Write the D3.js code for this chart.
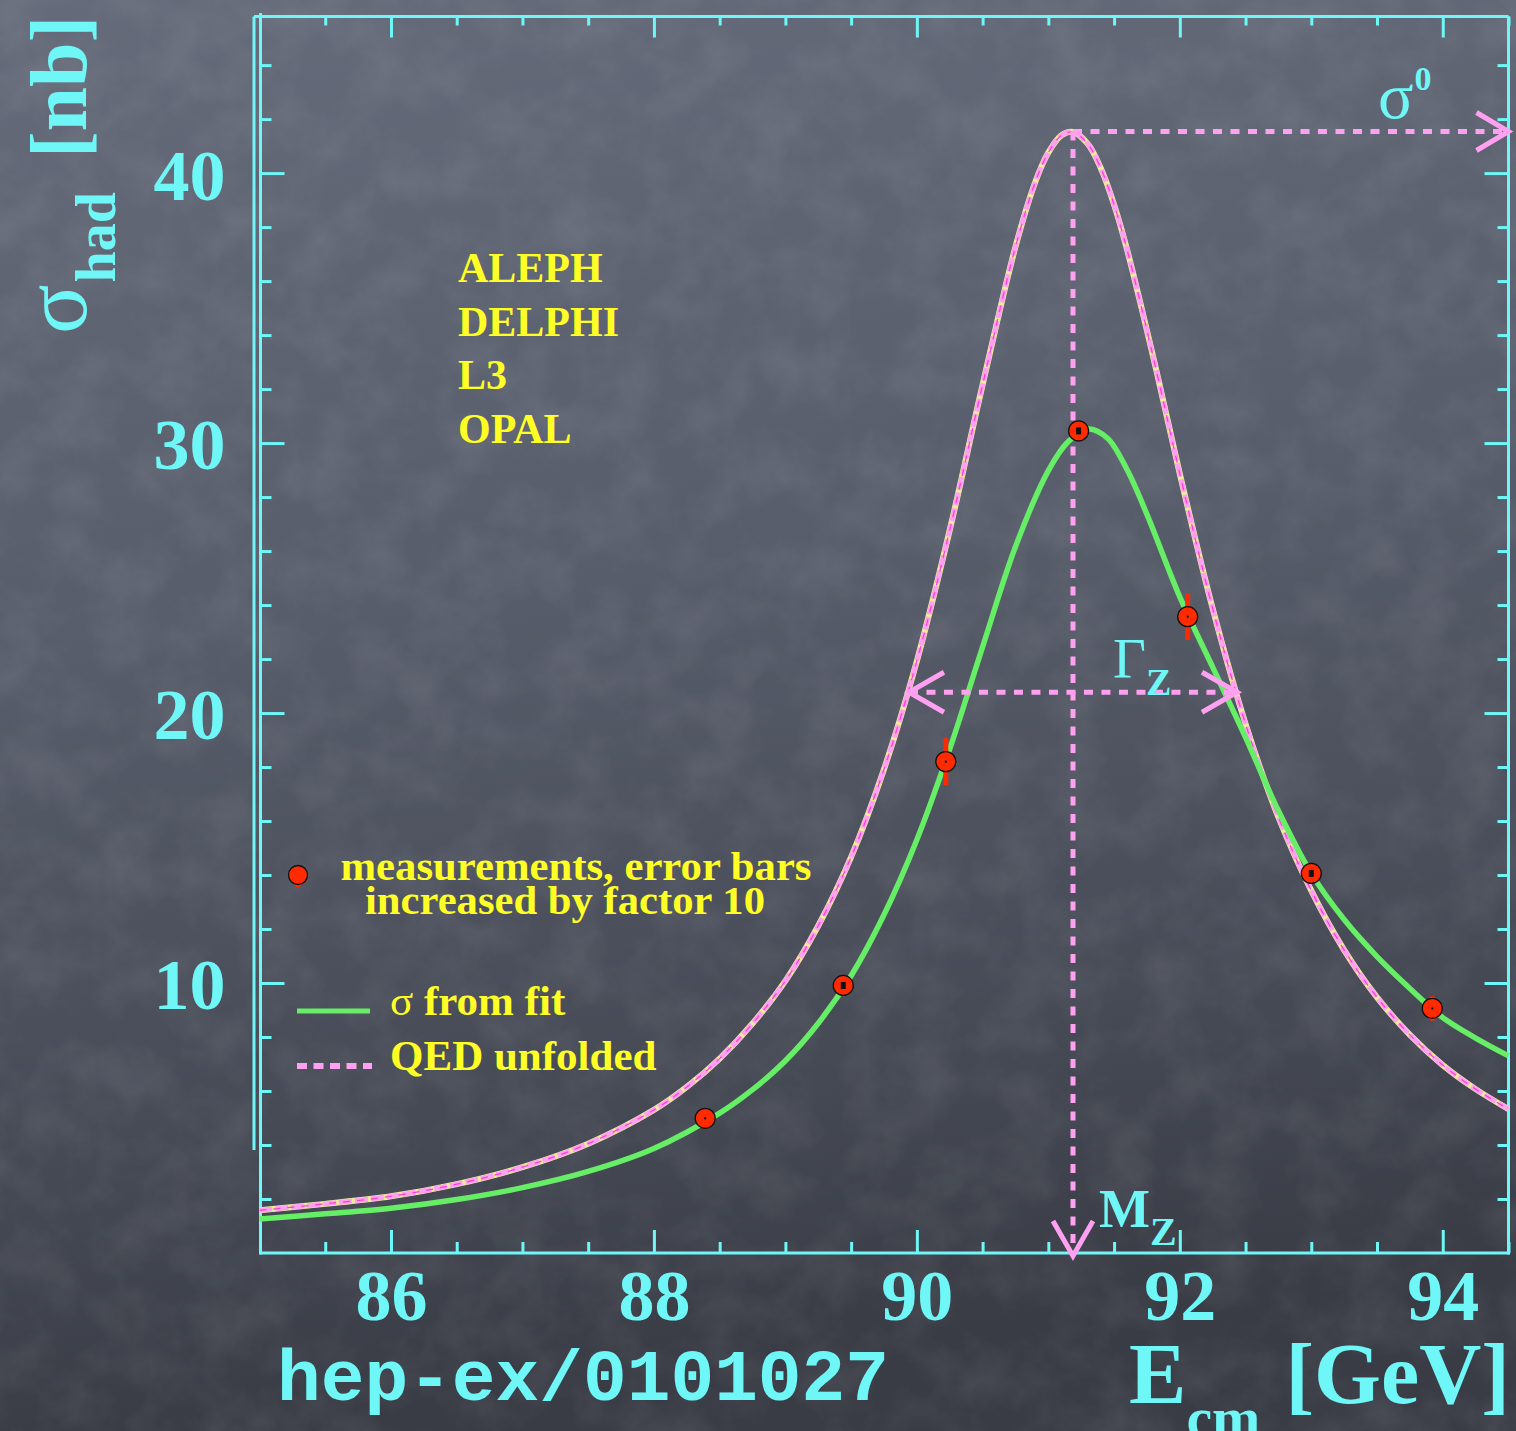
<!DOCTYPE html>
<html>
<head>
<meta charset="utf-8">
<script src="https://cdn.jsdelivr.net/npm/d3@7"></script>
<style>
  html, body { margin: 0; padding: 0; background: #4b505c; }
  svg { display: block; }
</style>
</head>
<body>
<svg id="chart" width="1516" height="1431"></svg>
<script>
// ---- Z lineshape: hadronic cross section around the Z pole ----

// Fitted cross section including initial-state radiation (nb)
const fitEnergy = [85.0, 85.5, 86.0, 86.5, 87.0, 87.5, 88.0, 88.5, 88.75, 89.0, 89.25, 89.5, 89.75,
                   90.0, 90.25, 90.5, 90.75, 91.0, 91.15, 91.3, 91.45, 91.6, 91.75, 92.0, 92.25,
                   92.5, 92.75, 93.0, 93.25, 93.5, 93.75, 94.0, 94.25, 94.5];
const fitSigma  = [1.26, 1.45, 1.66, 1.98, 2.42, 3.02, 3.87, 5.18, 6.05, 7.12, 8.51, 10.27, 12.53,
                   15.31, 18.67, 22.45, 26.16, 28.98, 30.05, 30.52, 30.18, 29.00, 27.36, 24.30, 21.70,
                   19.10, 16.38, 14.06, 12.35, 10.98, 9.80, 8.72, 7.96, 7.30];

// QED-unfolded (pure electroweak) cross section (nb)
const qedEnergy = [85.0, 85.5, 86.0, 86.5, 87.0, 87.5, 88.0, 88.25, 88.5, 88.75, 89.0, 89.25, 89.5,
                   89.75, 90.0, 90.25, 90.5, 90.75, 90.9, 91.0, 91.1, 91.1875, 91.3, 91.4, 91.5,
                   91.6, 91.8, 92.0, 92.25, 92.5, 92.75, 93.0, 93.25, 93.5, 93.75, 94.0, 94.25, 94.5];
const qedSigma  = [1.58, 1.82, 2.10, 2.55, 3.18, 4.05, 5.30, 6.15, 7.20, 8.50, 10.08, 12.12, 14.67,
                   17.92, 21.93, 26.78, 32.16, 37.27, 39.66, 40.76, 41.40, 41.52, 41.08, 40.17, 38.83,
                   37.14, 33.14, 28.86, 23.87, 19.60, 16.14, 13.42, 11.22, 9.47, 8.08, 6.96, 6.07, 5.33];

// LEP combined measurements (error bars increased by factor 10)
const measEnergy = [88.39, 89.44, 90.22, 91.23, 92.06, 93.00, 93.92];
const measSigma  = [4.99, 9.91, 18.20, 30.45, 23.57, 14.06, 9.06];
const measErr10  = [0.40, 0.15, 0.87, 0.12, 0.86, 0.15, 0.45];

// Fit parameters used for the annotation arrows
const massZ = 91.1875;     // GeV
const widthZ = 2.4952;     // GeV
const peakSigma0 = 41.54;  // nb

// Axis ticks
const xMajorTicks = [86, 88, 90, 92, 94];
const xMinorTicks = [85.5, 86.5, 87, 87.5, 88.5, 89, 89.5, 90.5, 91, 91.5, 92.5, 93, 93.5, 94.5];
const yMajorTicks = [10, 20, 30, 40];
const yMinorTicks = [2, 4, 6, 8, 12, 14, 16, 18, 22, 24, 26, 28, 32, 34, 36, 38, 42, 44];

const experiments = ["ALEPH", "DELPHI", "L3", "OPAL"];

// ---- styling ----
const CYAN = "#6ff7f7";
const YELLOW = "#ffff26";
const GREEN = "#66ee66";
const PINK = "#ffa0f0";
const RED = "#ff2a00";
const SERIF = "'Liberation Serif', 'Times New Roman', serif";
const MONO = "'Liberation Mono', 'Courier New', monospace";

const W = 1516, H = 1431;
const plot = { left: 259.5, right: 1508.5, top: 16.5, bottom: 1253 };

const svg = d3.select("#chart");

// ---- chalkboard background ----
const defs = svg.append("defs");
const bg = defs.append("linearGradient").attr("id", "bgGrad")
  .attr("x1", 0).attr("y1", 0).attr("x2", 0.15).attr("y2", 1);
bg.append("stop").attr("offset", 0).attr("stop-color", "#656b7a");
bg.append("stop").attr("offset", 0.45).attr("stop-color", "#585d6b");
bg.append("stop").attr("offset", 0.8).attr("stop-color", "#464a55");
bg.append("stop").attr("offset", 1).attr("stop-color", "#393c45");

const chalk = defs.append("filter").attr("id", "chalk")
  .attr("x", 0).attr("y", 0).attr("width", "100%").attr("height", "100%");
chalk.append("feTurbulence").attr("type", "fractalNoise")
  .attr("baseFrequency", "0.02").attr("numOctaves", 5).attr("seed", 11).attr("result", "noise");
chalk.append("feColorMatrix").attr("type", "matrix")
  .attr("values", "0 0 0 0 1  0 0 0 0 1  0 0 0 0 1  0.45 0 0 0 -0.16");

svg.append("rect").attr("width", W).attr("height", H).attr("fill", "url(#bgGrad)");
svg.append("rect").attr("width", W).attr("height", H).attr("filter", "url(#chalk)").attr("opacity", 0.3);

// ---- scales ----
const x = d3.scaleLinear().domain([85, 94.5]).range([plot.left, plot.right]);
const y = d3.scaleLinear().domain([0, 45.8]).range([plot.bottom, plot.top]);

// ---- frame ----
const frame = svg.append("g").attr("stroke", CYAN).attr("stroke-width", 3).attr("fill", "none");
frame.append("line").attr("x1", 254).attr("x2", plot.right).attr("y1", plot.top).attr("y2", plot.top);
frame.append("line").attr("x1", 254).attr("x2", 254).attr("y1", plot.top).attr("y2", 1150);
frame.append("line").attr("x1", plot.left + 1).attr("x2", plot.left + 1).attr("y1", 13).attr("y2", plot.bottom + 1.5);
frame.append("line").attr("x1", plot.right).attr("x2", plot.right).attr("y1", plot.top).attr("y2", plot.bottom + 1.5);
frame.append("line").attr("x1", plot.left).attr("x2", plot.right + 1.5).attr("y1", plot.bottom).attr("y2", plot.bottom);

function styleTicks(g) {
  g.select(".domain").remove();
  g.selectAll(".tick line").attr("stroke", CYAN).attr("stroke-width", 3);
}

// y ticks: inward on both sides
svg.append("g").attr("transform", `translate(${plot.left + 1},0)`)
  .call(d3.axisRight(y).tickValues(yMinorTicks).tickSize(11).tickFormat("")).call(styleTicks);
svg.append("g").attr("transform", `translate(${plot.left + 1},0)`)
  .call(d3.axisRight(y).tickValues(yMajorTicks).tickSize(24).tickFormat("")).call(styleTicks);
svg.append("g").attr("transform", `translate(${plot.right},0)`)
  .call(d3.axisLeft(y).tickValues(yMinorTicks).tickSize(11).tickFormat("")).call(styleTicks);
svg.append("g").attr("transform", `translate(${plot.right},0)`)
  .call(d3.axisLeft(y).tickValues(yMajorTicks).tickSize(24).tickFormat("")).call(styleTicks);

// x ticks: inward on top and bottom
svg.append("g").attr("transform", `translate(0,${plot.bottom})`)
  .call(d3.axisTop(x).tickValues(xMinorTicks).tickSize(11).tickFormat("")).call(styleTicks);
svg.append("g").attr("transform", `translate(0,${plot.bottom})`)
  .call(d3.axisTop(x).tickValues(xMajorTicks).tickSize(23).tickFormat("")).call(styleTicks);
svg.append("g").attr("transform", `translate(0,${plot.top})`)
  .call(d3.axisBottom(x).tickValues(xMinorTicks).tickSize(9).tickFormat("")).call(styleTicks);
svg.append("g").attr("transform", `translate(0,${plot.top})`)
  .call(d3.axisBottom(x).tickValues(xMajorTicks).tickSize(21).tickFormat("")).call(styleTicks);

// tick labels
function styleLabels(g) {
  g.select(".domain").remove();
  g.selectAll(".tick line").remove();
  g.attr("font-family", SERIF).attr("font-size", 72).attr("font-weight", "bold");
  g.selectAll(".tick text").attr("fill", CYAN);
}
svg.append("g").attr("transform", `translate(${plot.left},0)`)
  .call(d3.axisLeft(y).tickValues(yMajorTicks).tickSize(0).tickPadding(34).tickFormat(d3.format("d")))
  .call(styleLabels)
  .selectAll(".tick text").attr("dy", "0.36em");
svg.append("g").attr("transform", `translate(0,${plot.bottom})`)
  .call(d3.axisBottom(x).tickValues(xMajorTicks).tickSize(0).tickPadding(16).tickFormat(d3.format("d")))
  .call(styleLabels);

// ---- axis titles ----
const yTitle = svg.append("text")
  .attr("transform", "translate(86,334) rotate(-90)")
  .attr("font-family", SERIF).attr("font-weight", "bold").attr("fill", CYAN);
yTitle.append("tspan").attr("font-size", 92).attr("font-weight", "normal").text("σ");
yTitle.append("tspan").attr("font-size", 56).attr("dy", 29).attr("dx", 2).text("had");
yTitle.append("tspan").attr("font-size", 80).attr("dy", -29).attr("dx", 34).text("[nb]");

const xTitle = svg.append("text")
  .attr("x", 1129).attr("y", 1403)
  .attr("font-family", SERIF).attr("font-weight", "bold").attr("fill", CYAN);
xTitle.append("tspan").attr("font-size", 86).text("E");
xTitle.append("tspan").attr("font-size", 58).attr("dy", 34).text("cm");
xTitle.append("tspan").attr("font-size", 86).attr("dy", -34).attr("dx", 25).text("[GeV]");

svg.append("text")
  .attr("x", 277).attr("y", 1400)
  .attr("font-family", MONO).attr("font-weight", "bold").attr("font-size", 72)
  .attr("fill", CYAN).attr("textLength", 612).attr("lengthAdjust", "spacingAndGlyphs")
  .text("hep-ex/0101027");

// ---- curves ----
const line = d3.line().x(d => x(d[0])).y(d => y(d[1])).curve(d3.curveCatmullRom.alpha(0.5));
const qedPts = qedEnergy.map((e, i) => [e, qedSigma[i]]);
const fitPts = fitEnergy.map((e, i) => [e, fitSigma[i]]);

// QED unfolded: pale line, pink dashes, fine magenta dash
svg.append("path").attr("d", line(qedPts)).attr("fill", "none")
  .attr("stroke", "#ecec9c").attr("stroke-width", 6);
svg.append("path").attr("d", line(qedPts)).attr("fill", "none")
  .attr("stroke", PINK).attr("stroke-width", 5).attr("stroke-dasharray", "13 3");
svg.append("path").attr("d", line(qedPts)).attr("fill", "none")
  .attr("stroke", "#ff40d0").attr("stroke-width", 1.3).attr("stroke-dasharray", "7 7");

// fitted cross section
svg.append("path").attr("d", line(fitPts)).attr("fill", "none")
  .attr("stroke", GREEN).attr("stroke-width", 5.5).attr("stroke-linejoin", "round");

// ---- annotation arrows (M_Z, Gamma_Z, sigma0) ----
const ann = svg.append("g").attr("stroke", PINK).attr("fill", "none").attr("stroke-width", 5);
const xM = x(massZ), yPeak = y(peakSigma0), yHalf = y(peakSigma0 / 2);
const xLo = x(massZ - widthZ / 2), xHi = x(massZ + widthZ / 2);
const dots = "9 8.5";
ann.append("line").attr("x1", xM).attr("x2", xM).attr("y1", yPeak).attr("y2", plot.bottom)
  .attr("stroke-dasharray", dots);
ann.append("line").attr("x1", xM).attr("x2", plot.right).attr("y1", yPeak).attr("y2", yPeak)
  .attr("stroke-dasharray", dots);
ann.append("line").attr("x1", xLo).attr("x2", xHi).attr("y1", yHalf).attr("y2", yHalf)
  .attr("stroke-dasharray", dots);
// arrow heads
ann.append("polyline").attr("points", `${xM - 20},${plot.bottom - 32} ${xM},${plot.bottom + 3} ${xM + 20},${plot.bottom - 32}`);
ann.append("polyline").attr("points", `${plot.right - 32},${yPeak - 19} ${plot.right},${yPeak} ${plot.right - 32},${yPeak + 19}`);
ann.append("polyline").attr("points", `${xLo + 35},${yHalf - 20} ${xLo},${yHalf} ${xLo + 35},${yHalf + 20}`);
ann.append("polyline").attr("points", `${xHi - 35},${yHalf - 20} ${xHi},${yHalf} ${xHi - 35},${yHalf + 20}`);

// annotation labels
const sig0 = svg.append("text").attr("x", 1378).attr("y", 118)
  .attr("font-family", SERIF).attr("fill", CYAN);
sig0.append("tspan").attr("font-size", 66).text("σ");
sig0.append("tspan").attr("font-size", 34).attr("font-weight", "bold").attr("dy", -28).attr("dx", 1).text("0");

const gam = svg.append("text").attr("x", 1113).attr("y", 678)
  .attr("font-family", SERIF).attr("fill", CYAN);
gam.append("tspan").attr("font-size", 57).text("Γ");
gam.append("tspan").attr("font-size", 38).attr("font-weight", "bold").attr("dy", 17).text("Z");

const mz = svg.append("text").attr("x", 1099).attr("y", 1227)
  .attr("font-family", SERIF).attr("font-weight", "bold").attr("fill", CYAN);
mz.append("tspan").attr("font-size", 54).text("M");
mz.append("tspan").attr("font-size", 40).attr("dy", 18).text("Z");

// ---- measurements ----
const meas = svg.append("g");
measEnergy.forEach((e, i) => {
  const cx = x(e), cy = y(measSigma[i]);
  const g = meas.append("g");
  g.append("line").attr("x1", cx).attr("x2", cx)
    .attr("y1", y(measSigma[i] - measErr10[i])).attr("y2", y(measSigma[i] + measErr10[i]))
    .attr("stroke", RED).attr("stroke-width", 5);
  g.append("circle").attr("cx", cx).attr("cy", cy).attr("r", 10)
    .attr("fill", RED).attr("stroke", "#111").attr("stroke-width", 1.3);
  const small = measErr10[i] < 0.3;
  const w = small ? 5 : 2, h = small ? 7 : 2;
  g.append("rect").attr("x", cx - w / 2).attr("y", cy - h / 2).attr("width", w).attr("height", h)
    .attr("fill", "#111");
});

// ---- legend texts ----
const txt = svg.append("g").attr("font-family", SERIF).attr("font-weight", "bold").attr("fill", YELLOW);
experiments.forEach((name, i) => {
  txt.append("text").attr("x", 458).attr("y", 282 + i * 53.7).attr("font-size", 42).text(name);
});
txt.append("text").attr("x", 576).attr("y", 880).attr("font-size", 41).attr("text-anchor", "middle")
  .attr("textLength", 471).attr("lengthAdjust", "spacingAndGlyphs")
  .text("measurements, error bars");
txt.append("text").attr("x", 565).attr("y", 914).attr("font-size", 41).attr("text-anchor", "middle")
  .attr("textLength", 400).attr("lengthAdjust", "spacingAndGlyphs")
  .text("increased by factor 10");
const fitLbl = txt.append("text").attr("x", 390).attr("y", 1015).attr("font-size", 43);
fitLbl.append("tspan").attr("font-weight", "normal").text("σ");
fitLbl.append("tspan").text(" from fit");
txt.append("text").attr("x", 390).attr("y", 1070).attr("font-size", 43).text("QED unfolded");

// legend symbols
const leg = svg.append("g");
leg.append("line").attr("x1", 298).attr("x2", 298).attr("y1", 866).attr("y2", 887)
  .attr("stroke", RED).attr("stroke-width", 5);
leg.append("circle").attr("cx", 298).attr("cy", 875).attr("r", 9.5)
  .attr("fill", RED).attr("stroke", "#111").attr("stroke-width", 1.3);
leg.append("line").attr("x1", 297).attr("x2", 370).attr("y1", 1011).attr("y2", 1011)
  .attr("stroke", GREEN).attr("stroke-width", 5);
leg.append("line").attr("x1", 297).attr("x2", 372).attr("y1", 1066).attr("y2", 1066)
  .attr("stroke", PINK).attr("stroke-width", 6).attr("stroke-dasharray", "10 6.5");
</script>
</body>
</html>
